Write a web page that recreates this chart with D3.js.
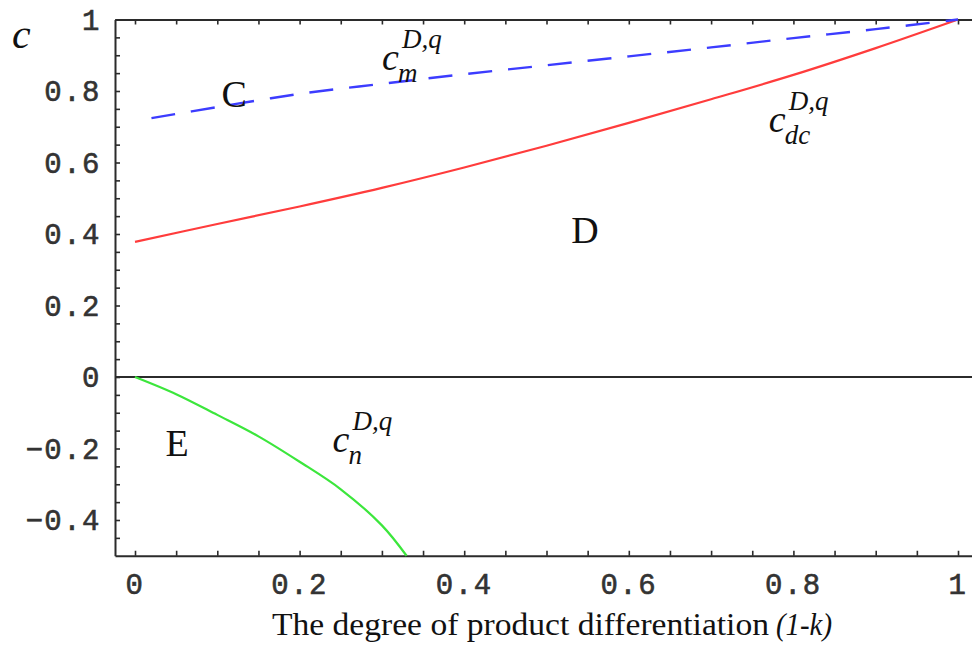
<!DOCTYPE html>
<html><head><meta charset="utf-8">
<script src="https://cdn.jsdelivr.net/npm/d3@7"></script>
<style>body{margin:0;background:#fff}svg{display:block}</style>
</head><body>
<svg id="chart" width="972" height="649"></svg>
<script>
// ---- data ----
const cmX  = [0.02, 0.1, 0.2, 0.3, 0.4, 0.5, 0.6, 0.7, 0.8, 0.9, 1.0];
const cmY  = [0.724, 0.755, 0.792, 0.82, 0.847, 0.872, 0.897, 0.922, 0.948, 0.973, 1.0];
const cdcX = [0, 0.1, 0.2, 0.3, 0.4, 0.5, 0.6, 0.7, 0.8, 0.9, 1.0];
const cdcY = [0.378, 0.428, 0.477, 0.529, 0.586, 0.647, 0.711, 0.777, 0.845, 0.92, 1.0];
const cnX  = [0, 0.05, 0.1, 0.15, 0.2, 0.25, 0.3, 0.33];
const cnY  = [0, -0.048, -0.106, -0.166, -0.237, -0.314, -0.415, -0.5];
const xTickValues = [0, 0.2, 0.4, 0.6, 0.8, 1];
const xTickLabels = ["0", "0.2", "0.4", "0.6", "0.8", "1"];
const yTickValues = [1, 0.8, 0.6, 0.4, 0.2, 0, -0.2, -0.4];
const yTickLabels = ["1", "0.8", "0.6", "0.4", "0.2", "0", "\u22120.2", "\u22120.4"];
const minorStep = 0.05;
const regionLabels = [{t:"C", x:0.105, y:0.755}, {t:"D", x:0.53, y:0.375}, {t:"E", x:0.037, y:-0.22}];
const curveLabels = [
  {sub:"m",  x:0.30,  y:0.86},
  {sub:"dc", x:0.77,  y:0.686},
  {sub:"n",  x:0.24,  y:-0.21}
];
const xTitle = "The degree of product differentiation";
const xTitleItalic = "(1-k)";
const yTitle = "c";

// ---- layout ----
const svg = d3.select("#chart");
const x = d3.scaleLinear().domain([-0.0243, 1.017]).range([115, 972]);
const y = d3.scaleLinear().domain([-0.5, 1]).range([555.75, 19.5]);

const frameColor = "#2b2b2b";
const minorX = d3.range(0, 1.0001, minorStep).map(v => +v.toFixed(2));
const minorY = d3.range(-0.45, 1.0001, minorStep).map(v => +v.toFixed(2));

function styleAxis(g){
  g.select(".domain").attr("stroke", frameColor).attr("stroke-width", 2);
  g.selectAll(".tick line").attr("stroke", frameColor).attr("stroke-width", 1.6);
  g.selectAll(".tick text").remove();
}
svg.append("g").attr("transform", `translate(0,${y(-0.5)})`)
  .call(d3.axisBottom(x).tickValues(minorX).tickSizeInner(-5).tickSizeOuter(0).tickFormat(""))
  .call(styleAxis);
svg.append("g").attr("transform", `translate(0,${y(1)})`)
  .call(d3.axisTop(x).tickValues(minorX).tickSizeInner(-5).tickSizeOuter(0).tickFormat(""))
  .call(styleAxis);
svg.append("g").attr("transform", `translate(${x.range()[0]},0)`)
  .call(d3.axisLeft(y).tickValues(minorY).tickSizeInner(-5).tickSizeOuter(0).tickFormat(""))
  .call(styleAxis);

// zero line
svg.append("line")
  .attr("x1", x.range()[0]).attr("x2", x.range()[1])
  .attr("y1", y(0)).attr("y2", y(0))
  .attr("stroke", frameColor).attr("stroke-width", 2);

// tick labels
const monoFont = "'Liberation Mono', 'DejaVu Sans Mono', monospace";
svg.append("g").selectAll("text").data(xTickValues).join("text")
  .attr("x", d => x(d)).attr("y", 594)
  .attr("text-anchor", "middle")
  .attr("font-family", monoFont).attr("font-size", 29)
  .attr("letter-spacing", 1.5)
  .attr("stroke", "#333").attr("stroke-width", 0.6)
  .attr("fill", "#333")
  .text((d, i) => xTickLabels[i]);
svg.append("g").selectAll("text").data(yTickValues).join("text")
  .attr("x", 101).attr("y", d => y(d))
  .attr("dy", "0.35em")
  .attr("text-anchor", "end")
  .attr("font-family", monoFont).attr("font-size", 29)
  .attr("letter-spacing", 1.5)
  .attr("stroke", "#333").attr("stroke-width", 0.6)
  .attr("fill", "#333")
  .text((d, i) => yTickLabels[i]);

// curves
const line = d3.line().x(d => x(d[0])).y(d => y(d[1])).curve(d3.curveCatmullRom.alpha(0.5));
svg.append("path").datum(d3.zip(cdcX, cdcY)).attr("d", line)
  .attr("fill", "none").attr("stroke", "#ff3c3c").attr("stroke-width", 2.2);
svg.append("path").datum(d3.zip(cnX, cnY)).attr("d", line)
  .attr("fill", "none").attr("stroke", "#3ce63c").attr("stroke-width", 2.2);
svg.append("path").datum(d3.zip(cmX, cmY)).attr("d", line)
  .attr("fill", "none").attr("stroke", "#3c3cff").attr("stroke-width", 2.4)
  .attr("stroke-dasharray", "24,16");

// region labels
const serif = "'Liberation Serif', 'Times New Roman', serif";
svg.append("g").selectAll("text").data(regionLabels).join("text")
  .attr("x", d => x(d.x)).attr("y", d => y(d.y))
  .attr("font-family", serif).attr("font-size", 38).attr("fill", "#111")
  .text(d => d.t);

// curve labels c_sub^{D,q}
const cl = svg.append("g").selectAll("g").data(curveLabels).join("g")
  .attr("transform", d => `translate(${x(d.x)},${y(d.y)})`)
  .attr("font-family", serif).attr("font-style", "italic").attr("fill", "#111");
cl.append("text").attr("x", 0).attr("y", 0).attr("font-size", 38).text("c");
cl.append("text").attr("x", 20).attr("y", -22).attr("font-size", 27).text("D,q");
cl.append("text").attr("x", 16).attr("y", 12).attr("font-size", 27).text(d => d.sub);

// axis titles
svg.append("text").attr("x", 272).attr("y", 635)
  .attr("font-family", serif).attr("font-size", 31).attr("fill", "#111")
  .attr("textLength", 497).attr("lengthAdjust", "spacingAndGlyphs")
  .text(xTitle);
svg.append("text").attr("x", 776).attr("y", 635)
  .attr("font-family", serif).attr("font-style", "italic").attr("font-size", 31).attr("fill", "#111")
  .attr("textLength", 56).attr("lengthAdjust", "spacingAndGlyphs")
  .text(xTitleItalic);
svg.append("text").attr("x", 12).attr("y", 48)
  .attr("font-family", serif).attr("font-style", "italic").attr("font-size", 42).attr("fill", "#111")
  .text(yTitle);
</script>
</body></html>
